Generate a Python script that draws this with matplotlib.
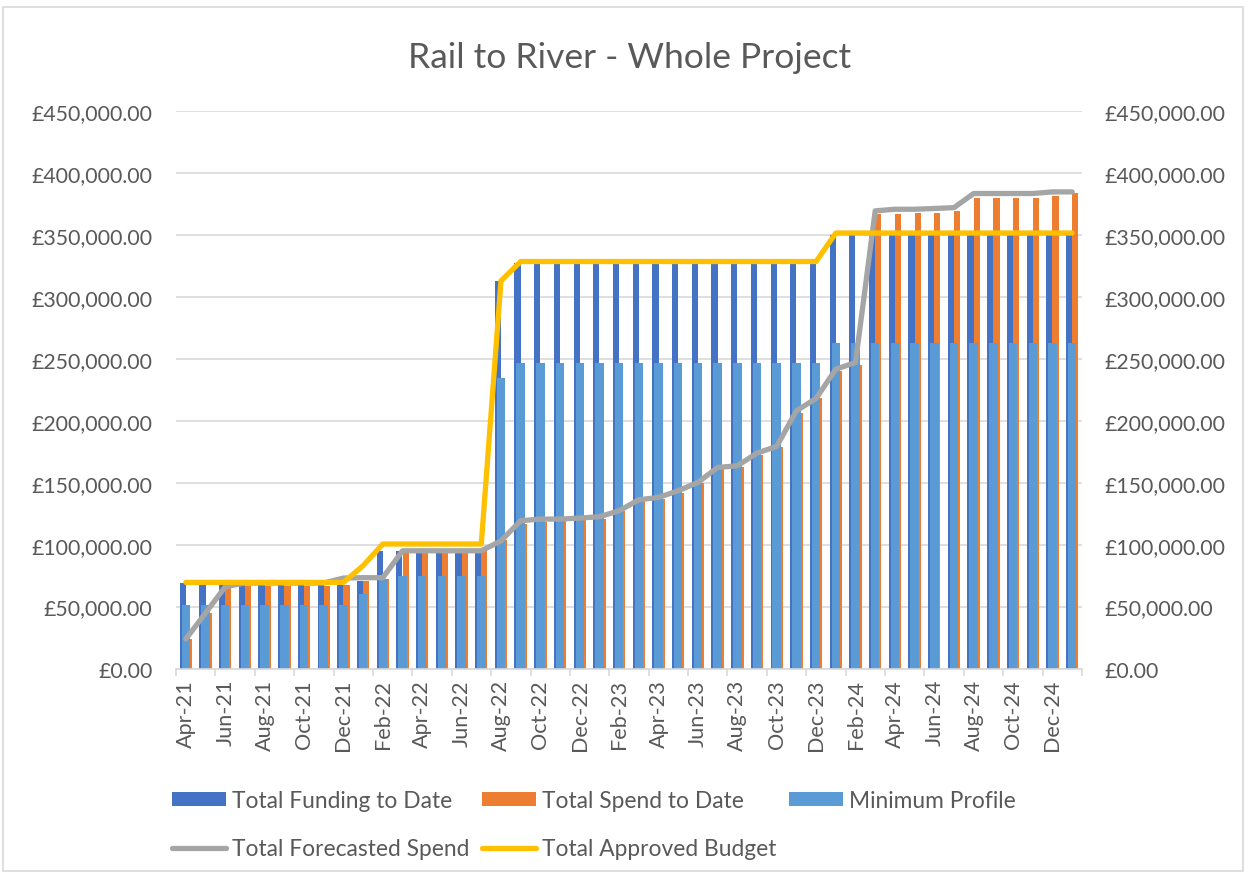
import matplotlib
matplotlib.use("Agg")
import matplotlib.pyplot as plt
from matplotlib.patches import Patch, Rectangle
from matplotlib.lines import Line2D
from matplotlib.ticker import FuncFormatter, FixedLocator
import numpy as np

months = ["Apr-21", "May-21", "Jun-21", "Jul-21", "Aug-21", "Sep-21", "Oct-21", "Nov-21",
          "Dec-21", "Jan-22", "Feb-22", "Mar-22", "Apr-22", "May-22", "Jun-22", "Jul-22",
          "Aug-22", "Sep-22", "Oct-22", "Nov-22", "Dec-22", "Jan-23", "Feb-23", "Mar-23",
          "Apr-23", "May-23", "Jun-23", "Jul-23", "Aug-23", "Sep-23", "Oct-23", "Nov-23",
          "Dec-23", "Jan-24", "Feb-24", "Mar-24", "Apr-24", "May-24", "Jun-24", "Jul-24",
          "Aug-24", "Sep-24", "Oct-24", "Nov-24", "Dec-24", "Jan-25"]

funding = [68700] * 9 + [70800] + [95000] * 6 + [312900] + [327500] * 16 + [350000] * 13

spend = [24000, 45000, 66300, 66300, 66300, 66300, 66300, 66300, 67000, 70800, 72000,
         95000, 95000, 95000, 95000, 95000, 104000, 117000, 118500, 119000, 119500, 121000,
         127000, 135000, 137000, 142000, 150000, 161000, 163000, 172000, 179000, 206500,
         218000, 240000, 245000, 366700, 366700, 368000, 368000, 369400, 380000, 380000,
         380000, 380000, 381500, 383600]

minimum = [51500] * 9 + [60000] + [72000] + [74500] * 5 + [234400] + [246500] * 16 + [262600] * 13

forecast = [23800, 44800, 66000, 69000, 69000, 69000, 69000, 69000, 73000, 73300, 73300,
            95000, 95000, 95000, 95000, 95000, 103000, 119300, 120600, 120600, 121400, 122500,
            127300, 136200, 138100, 143500, 150200, 162300, 163600, 173900, 179300, 208000,
            218000, 241600, 247000, 369400, 370700, 370700, 371300, 372000, 383400, 383400,
            383400, 383400, 384700, 384700]

budget = [69500] * 9 + [83000] + [100500] * 6 + [312900] + [328500] * 16 + [351500] * 13

series_names = ["Total Funding to Date", "Total Spend to Date", "Minimum Profile",
                "Total Forecasted Spend", "Total Approved Budget"]
title = "Rail to River - Whole Project"

C_FUND = "#4472C4"
C_SPEND = "#ED7D31"
C_MIN = "#5B9BD5"
C_FORE = "#A5A5A5"
C_BUDG = "#FFC000"
TXT = "#595959"
GRID = "#D9D9D9"

plt.rcParams['font.family'] = ['Lato', 'DejaVu Sans']

W, H = 1250, 878
fig = plt.figure(figsize=(W / 100, H / 100), dpi=100)
fig.patches.append(Rectangle((3 / W, 1 - 872 / H), 1240 / W, 864 / H, transform=fig.transFigure,
                             fill=False, edgecolor=GRID, lw=1.2))

L, R, T, B = 176, 1082, 112, 669.5
ax = fig.add_axes([L / W, 1 - B / H, (R - L) / W, (B - T) / H])

x = np.arange(len(months))
bw = 0.315
ax.bar(x - bw / 2, funding, width=bw, color=C_FUND, zorder=2, linewidth=0)
ax.bar(x + bw / 2, spend, width=bw, color=C_SPEND, zorder=2, linewidth=0)
ax.bar(x, minimum, width=0.43, color=C_MIN, zorder=3, linewidth=0)
ax.plot(x, forecast, color=C_FORE, lw=3.8, solid_joinstyle='round', solid_capstyle='round', zorder=4)
ax.plot(x, budget, color=C_BUDG, lw=3.8, solid_joinstyle='round', solid_capstyle='round', zorder=5)

ax.set_xlim(-0.5, len(months) - 0.5)
ax.set_ylim(0, 450000)
yt = np.arange(0, 450001, 50000)
fmt = FuncFormatter(lambda v, p: f"£{v:,.2f}")
ax.set_yticks(yt)
ax.yaxis.set_major_formatter(fmt)
ax.grid(axis='y', color=GRID, lw=1.2, zorder=0)
ax.set_axisbelow(True)
for s in ['top', 'left', 'right']:
    ax.spines[s].set_visible(False)
ax.spines['bottom'].set_color(GRID)
ax.spines['bottom'].set_linewidth(1.2)
ax.spines['bottom'].set_zorder(6)
ax.tick_params(axis='y', length=0, pad=17, labelsize=15.3, labelcolor=TXT)

ax.set_xticks(x[::2])
ax.set_xticklabels(months[::2], rotation=90)
ax.tick_params(axis='x', which='major', length=0, pad=7.5, labelsize=15.6, labelcolor=TXT)
ax.xaxis.set_minor_locator(FixedLocator(np.arange(-0.5, len(months), 2)))
ax.tick_params(axis='x', which='minor', length=5, width=1.2, color=GRID)

ax2 = ax.twinx()
ax2.set_ylim(0, 450000)
ax2.set_yticks(yt)
ax2.yaxis.set_major_formatter(fmt)
for s in ['top', 'left', 'right', 'bottom']:
    ax2.spines[s].set_visible(False)
ax2.tick_params(axis='y', length=0, pad=16.5, labelsize=15.3, labelcolor=TXT)

fig.text(629.5 / W, 1 - 58 / H, title, ha='center', va='center', fontsize=25.5, color=TXT)

handles = [Patch(facecolor=C_FUND), Line2D([], [], color=C_FORE, lw=3.8, solid_capstyle='round'),
           Patch(facecolor=C_SPEND), Line2D([], [], color=C_BUDG, lw=3.8, solid_capstyle='round'),
           Patch(facecolor=C_MIN)]
labels = [series_names[0], series_names[3], series_names[1], series_names[4], series_names[2]]
leg = fig.legend(handles, labels, ncol=3, loc='upper left', bbox_to_anchor=(172 / W, 1 - 791 / H),
                 frameon=False, fontsize=16.4, handlelength=2.37, handleheight=0.62, handletextpad=0.26,
                 columnspacing=0.55, labelspacing=1.2, borderpad=0, borderaxespad=0)
for t in leg.get_texts():
    t.set_color(TXT)

fig.savefig("out.png", dpi=100)
